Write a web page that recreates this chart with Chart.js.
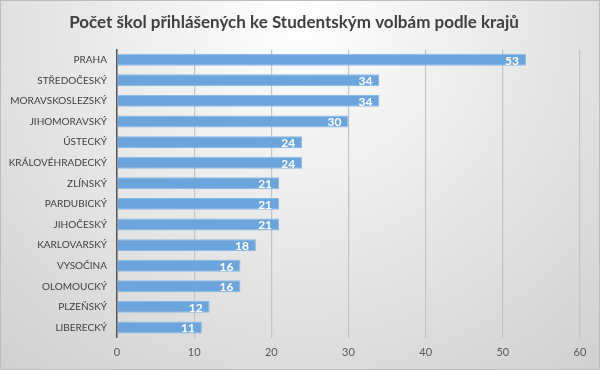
<!DOCTYPE html>
<html>
<head>
<meta charset="utf-8">
<script src="https://cdn.jsdelivr.net/npm/chart.js@4"></script>
<style>
  html, body { margin: 0; padding: 0; }
  #wrap { width: 600px; height: 370px; }
</style>
</head>
<body>
<div id="wrap"><canvas id="myChart_bar" width="600" height="370"></canvas></div>
<script>
const chartTitle = 'Počet škol přihlášených ke Studentským volbám podle krajů';
const regions = ['PRAHA', 'STŘEDOČESKÝ', 'MORAVSKOSLEZSKÝ', 'JIHOMORAVSKÝ', 'ÚSTECKÝ',
  'KRÁLOVÉHRADECKÝ', 'ZLÍNSKÝ', 'PARDUBICKÝ', 'JIHOČESKÝ', 'KARLOVARSKÝ',
  'VYSOČINA', 'OLOMOUCKÝ', 'PLZEŇSKÝ', 'LIBERECKÝ'];
const schoolCounts = [53, 34, 34, 30, 24, 24, 21, 21, 21, 18, 16, 16, 12, 11];
const axisMax = 60;
const axisStep = 10;

const fontFamily = 'Lato, "Open Sans", sans-serif';

// background: light radial gradient + thin frame
const backgroundPlugin = {
  id: 'bg',
  beforeDraw(chart) {
    const { ctx, width, height } = chart;
    ctx.save();
    const g = ctx.createRadialGradient(width / 2, 20, 0, width / 2, 20, 460);
    g.addColorStop(0, '#ffffff');
    g.addColorStop(1, '#d0d0d0');
    ctx.fillStyle = g;
    ctx.fillRect(0, 0, width, height);
    ctx.strokeStyle = '#bdbdbd';
    ctx.lineWidth = 1;
    ctx.strokeRect(0.5, 0.5, width - 1, height - 1);
    ctx.restore();
  }
};

// white value labels at the inner end of each bar
const valueLabels = {
  id: 'valueLabels',
  afterDatasetsDraw(chart) {
    const { ctx } = chart;
    const meta = chart.getDatasetMeta(0);
    ctx.save();
    ctx.fillStyle = '#ffffff';
    ctx.font = 'bold 12px ' + fontFamily;
    ctx.textAlign = 'right';
    ctx.textBaseline = 'middle';
    meta.data.forEach((bar, i) => {
      ctx.fillText(String(schoolCounts[i]), bar.x - 7, bar.y + 1);
    });
    ctx.restore();
  }
};

const ctx = document.getElementById('myChart_bar').getContext('2d');
new Chart(ctx, {
  type: 'bar',
  data: {
    labels: regions,
    datasets: [{
      data: schoolCounts,
      backgroundColor: '#6ca5db',
      borderColor: '#8bbbe6',
      borderWidth: 1,
      barPercentage: 0.58,
      categoryPercentage: 1
    }]
  },
  options: {
    indexAxis: 'y',
    responsive: false,
    animation: false,
    layout: { padding: { left: 8, right: 20, top: 0, bottom: 3 } },
    plugins: {
      legend: { display: false },
      tooltip: { enabled: false },
      title: {
        display: true,
        text: chartTitle,
        color: '#404040',
        font: { family: fontFamily, size: 17, weight: 'bold' },
        padding: { top: 12, bottom: 17 }
      }
    },
    scales: {
      x: {
        min: 0,
        max: axisMax,
        ticks: { stepSize: axisStep, color: '#595959', padding: 8, font: { family: fontFamily, size: 11 } },
        grid: { color: '#c4c4c4', lineWidth: 1.2, drawTicks: false },
        border: { display: false }
      },
      y: {
        afterFit(scale) { scale.width = 109; },
        ticks: { color: '#404040', padding: 10, font: { family: fontFamily, size: 10 } },
        grid: { display: false, drawTicks: false },
        border: { display: true, color: '#555555', width: 1.5 }
      }
    }
  },
  plugins: [backgroundPlugin, valueLabels]
});
</script>
</body>
</html>
